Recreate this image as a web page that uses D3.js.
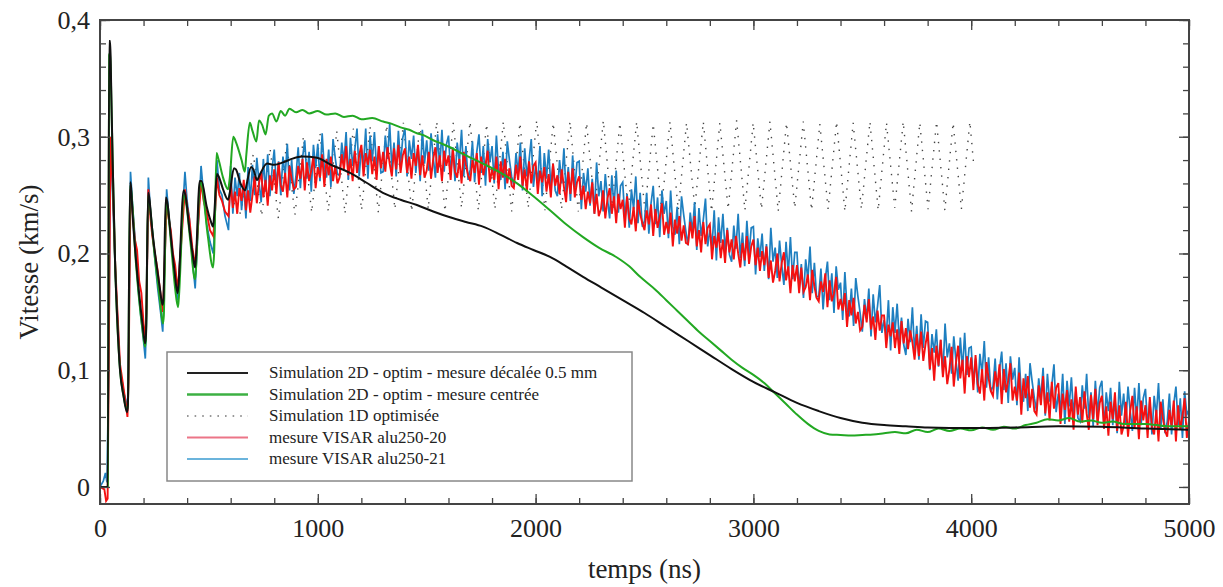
<!DOCTYPE html>
<html>
<head>
<meta charset="utf-8">
<script src="https://cdn.jsdelivr.net/npm/d3@7"></script>
<style>
body { margin: 0; background: #fff; }
text { font-family: "Liberation Serif", "Times New Roman", serif; fill: #222; }
</style>
</head>
<body>
<script>
// --- data (t in ns, v in km/s) ---
const legendLabels = [
  'Simulation 2D - optim - mesure décalée 0.5 mm',
  'Simulation 2D - optim - mesure centrée',
  'Simulation 1D optimisée',
  'mesure VISAR alu250-20',
  'mesure VISAR alu250-21'
];

const sim2dShifted = [[0,0],[36,0],[42,0.382],[47,0.382],[51,0.346],[58,0.28],[69,0.194],[80,0.14],[92,0.10],[108,0.078],[124,0.064],[128,0.07],[138,0.261],[142,0.258],[150,0.232],[165,0.195],[180,0.165],[195,0.14],[207,0.123],[211,0.13],[221,0.252],[226,0.248],[240,0.22],[260,0.19],[275,0.17],[287,0.156],[291,0.16],[302,0.248],[308,0.245],[325,0.215],[342,0.185],[356,0.166],[360,0.172],[384,0.254],[392,0.25],[410,0.222],[425,0.2],[436,0.188],[440,0.195],[458,0.262],[466,0.262],[490,0.24],[508,0.228],[519,0.223],[524,0.232],[537,0.268],[545,0.266],[565,0.255],[588,0.246],[596,0.252],[615,0.273],[624,0.272],[645,0.26],[666,0.254],[674,0.26],[694,0.274],[704,0.272],[721,0.263],[735,0.268],[767,0.277],[800,0.276],[840,0.278],[880,0.281],[930,0.283],[996,0.282],[1060,0.276],[1148,0.269],[1220,0.261],[1299,0.252],[1380,0.246],[1455,0.2415],[1530,0.236],[1607,0.231],[1680,0.227],[1758,0.223],[1840,0.216],[1915,0.209],[1990,0.203],[2066,0.197],[2140,0.189],[2218,0.18],[2300,0.171],[2400,0.16],[2500,0.149],[2600,0.137],[2700,0.125],[2800,0.113],[2900,0.101],[3000,0.09],[3100,0.081],[3200,0.072],[3300,0.065],[3400,0.059],[3500,0.055],[3600,0.053],[3700,0.052],[3800,0.051],[4000,0.0505],[4200,0.051],[4400,0.052],[4600,0.0515],[4800,0.05],[5000,0.049]];

const sim2dCentred = [[0,0],[36,0],[42,0.37],[47,0.372],[51,0.34],[58,0.28],[69,0.194],[92,0.10],[108,0.078],[124,0.066],[128,0.07],[138,0.258],[142,0.255],[165,0.192],[195,0.135],[207,0.12],[211,0.128],[221,0.25],[226,0.245],[250,0.2],[275,0.16],[289,0.14],[293,0.147],[304,0.245],[310,0.24],[330,0.2],[345,0.17],[358,0.154],[362,0.162],[386,0.25],[394,0.245],[415,0.21],[436,0.178],[440,0.185],[460,0.262],[468,0.258],[495,0.215],[519,0.188],[524,0.2],[535,0.286],[545,0.28],[565,0.265],[588,0.255],[596,0.265],[612,0.3],[625,0.295],[650,0.28],[665,0.27],[672,0.285],[688,0.312],[700,0.305],[718,0.296],[730,0.314],[745,0.31],[760,0.302],[775,0.318],[790,0.32],[810,0.313],[830,0.322],[850,0.318],[870,0.324],[900,0.321],[930,0.323],[960,0.32],[1000,0.322],[1040,0.319],[1080,0.32],[1120,0.317],[1160,0.318],[1200,0.315],[1250,0.316],[1300,0.313],[1340,0.311],[1380,0.308],[1420,0.306],[1455,0.303],[1490,0.301],[1530,0.297],[1570,0.294],[1607,0.291],[1680,0.284],[1758,0.277],[1840,0.269],[1915,0.26],[1990,0.249],[2066,0.237],[2140,0.225],[2218,0.214],[2290,0.205],[2370,0.197],[2430,0.189],[2480,0.18],[2550,0.169],[2600,0.16],[2650,0.151],[2700,0.142],[2750,0.133],[2800,0.125],[2850,0.117],[2900,0.109],[2950,0.102],[3000,0.096],[3050,0.089],[3100,0.08],[3150,0.071],[3200,0.062],[3250,0.054],[3300,0.048],[3350,0.045],[3400,0.0445],[3450,0.044],[3500,0.0445],[3550,0.045],[3600,0.046],[3650,0.047],[3700,0.046],[3750,0.049],[3800,0.047],[3850,0.05],[3900,0.048],[3950,0.05],[4000,0.0485],[4050,0.051],[4100,0.049],[4150,0.0515],[4200,0.05],[4250,0.053],[4300,0.055],[4350,0.058],[4400,0.057],[4450,0.059],[4500,0.056],[4550,0.057],[4600,0.055],[4650,0.056],[4700,0.054],[4800,0.054],[4900,0.052],[5000,0.052]];

const sim1d = [[600,0.25],[640,0.232],[704,0.285],[742,0.232],[781,0.29],[819,0.23],[857,0.295],[895,0.233],[934,0.3],[972,0.235],[1010,0.303],[1048,0.236],[1087,0.305],[1125,0.234],[1163,0.307],[1201,0.237],[1240,0.309],[1278,0.235],[1316,0.31],[1354,0.238],[1393,0.312],[1431,0.236],[1469,0.311],[1507,0.238],[1546,0.313],[1584,0.236],[1622,0.312],[1660,0.239],[1699,0.313],[1737,0.237],[1775,0.311],[1813,0.238],[1852,0.313],[1890,0.236],[1928,0.312],[1966,0.239],[2005,0.314],[2043,0.237],[2081,0.312],[2119,0.238],[2158,0.313],[2196,0.236],[2234,0.312],[2272,0.239],[2311,0.314],[2349,0.237],[2387,0.312],[2425,0.238],[2464,0.313],[2502,0.236],[2540,0.311],[2578,0.238],[2617,0.313],[2655,0.237],[2693,0.312],[2731,0.239],[2770,0.313],[2808,0.236],[2846,0.312],[2884,0.238],[2923,0.314],[2961,0.237],[2999,0.312],[3037,0.238],[3076,0.313],[3114,0.236],[3152,0.312],[3190,0.239],[3229,0.313],[3267,0.237],[3305,0.311],[3343,0.238],[3382,0.313],[3420,0.236],[3458,0.312],[3496,0.238],[3535,0.313],[3573,0.237],[3611,0.312],[3649,0.239],[3688,0.313],[3726,0.236],[3764,0.312],[3802,0.238],[3841,0.313],[3879,0.237],[3917,0.312],[3955,0.238],[3994,0.313],[4012,0.275]];

// VISAR, first ringing part (t, v)
const visar20Early = [[0,0],[20,-0.002],[28,-0.012],[35,-0.01],[40,0.1],[48,0.3],[60,0.25],[70,0.19],[80,0.15],[92,0.105],[100,0.095],[110,0.082],[118,0.072],[126,0.06],[131,0.09],[140,0.255],[148,0.24],[160,0.212],[170,0.203],[180,0.176],[190,0.166],[200,0.14],[208,0.125],[213,0.15],[222,0.255],[232,0.23],[240,0.215],[252,0.2],[265,0.185],[278,0.165],[288,0.15],[293,0.17],[306,0.245],[315,0.23],[325,0.22],[335,0.2],[345,0.19],[357,0.168],[362,0.18],[390,0.255],[400,0.24],[410,0.23],[424,0.205],[437,0.19],[442,0.2],[464,0.262],[476,0.245],[490,0.235],[505,0.22],[520,0.215],[526,0.228],[537,0.265],[548,0.25],[560,0.245],[574,0.236],[590,0.232]];
const visar21Early = [[0,0],[15,0.005],[25,0.012],[32,0.004],[40,0.1],[48,0.3],[60,0.24],[70,0.185],[82,0.14],[92,0.1],[102,0.09],[110,0.08],[118,0.075],[126,0.065],[131,0.1],[140,0.27],[150,0.24],[162,0.21],[175,0.17],[188,0.145],[200,0.125],[208,0.11],[213,0.14],[222,0.265],[232,0.235],[240,0.22],[252,0.195],[265,0.17],[278,0.15],[288,0.133],[293,0.16],[306,0.255],[315,0.235],[325,0.215],[335,0.195],[345,0.175],[357,0.16],[362,0.18],[390,0.27],[400,0.245],[410,0.23],[424,0.195],[437,0.17],[442,0.19],[464,0.275],[476,0.25],[490,0.225],[505,0.21],[520,0.2],[526,0.22],[537,0.28],[548,0.255],[560,0.25],[574,0.232],[590,0.22]];

// VISAR, sampled every 10 ns from 600 ns (values in 1e-3 km/s)
const visarStart = 600, visarStep = 10;
const visar20 = [
260,239,253,234,256,245,263,237,254,235, 250,266,243,260,270,248,263,241,267,254,
272,251,278,258,253,269,248,275,264,255, 257,275,264,281,254,278,262,271,283,256,
274,265,285,257,281,267,283,262,275,260, 265,285,272,292,267,281,262,288,269,284,
293,266,286,276,289,268,283,263,292,273, 287,270,291,277,266,290,272,293,269,284,
290,269,283,264,286,275,293,267,284,265, 271,287,264,281,291,269,284,262,288,275,
284,263,290,270,265,281,260,287,276,267, 262,280,269,286,259,283,267,276,288,261,
272,263,283,255,279,265,281,260,273,258, 256,276,263,283,258,272,253,279,260,275,
278,251,271,261,274,253,268,248,277,258, 267,251,272,257,244,270,251,273,248,261,
266,246,258,238,253,243,261,234,251,232, 238,254,230,247,256,234,249,226,251,238,
246,222,249,230,225,240,219,246,234,226, 220,237,225,242,215,238,222,231,243,216,
227,217,235,206,229,217,232,211,224,209, 208,227,213,232,206,220,201,227,208,222,
225,195,215,205,218,196,212,192,220,201, 212,195,215,200,188,209,194,215,191,206,
212,190,205,185,202,190,206,179,194,175, 185,200,176,192,201,177,189,166,190,176,
190,166,188,167,171,182,160,186,172,162, 159,176,167,183,154,177,159,166,180,152,
161,151,166,137,160,147,162,140,150,134, 137,156,141,161,135,146,126,151,134,147,
147,119,139,129,141,119,135,114,142,123, 136,118,134,124,109,131,112,133,108,122,
133,101,119,91,121,104,126,94,112,88, 101,120,86,106,121,93,109,80,112,94,
111,83,113,88,80,101,74,107,93,82, 78,99,86,105,71,101,81,91,106,74,
86,74,98,62,93,76,95,68,84,65, 62,87,70,95,63,81,57,90,67,85,
89,54,80,66,83,56,75,49,86,62, 77,55,82,63,49,79,58,84,53,72,
78,50,69,44,73,58,81,48,70,45, 52,73,43,65,78,50,69,41,74,57,
70,42,77,51,45,66,39,73,59,48, 43,66,52,74,39,70,49,61,76,42,
57];
const visar21 = [
275,234,265,249,269,237,260,230,274,245, 276,250,282,261,244,281,253,285,249,272,
289,257,279,250,283,266,294,254,280,251, 267,291,256,282,297,264,287,253,293,273,
294,262,303,272,265,289,257,298,282,268, 267,295,278,304,263,299,275,289,307,266,
290,276,307,264,301,279,304,272,292,269, 270,301,281,311,273,295,266,305,276,299,
307,266,297,281,301,269,292,262,306,277, 297,271,303,282,265,302,274,306,270,293,
301,269,291,262,295,278,306,266,292,263, 272,296,261,287,302,269,292,258,298,278,
292,260,301,270,263,287,255,296,280,266, 258,286,269,295,254,290,266,280,298,257,
275,261,292,249,286,264,289,257,277,254, 249,280,260,290,252,274,245,284,255,278,
279,238,269,253,273,241,264,234,278,249, 262,236,268,247,230,267,239,271,235,258,
261,229,251,222,255,238,266,226,252,223, 228,252,217,243,258,225,248,214,254,234,
245,213,254,223,216,240,208,249,233,219, 207,235,218,244,203,239,215,229,247,206,
220,206,237,194,231,209,234,202,222,199, 193,224,204,234,196,218,189,228,199,222,
223,182,213,197,217,185,208,178,222,193, 205,179,211,190,173,210,182,214,178,201,
201,169,191,162,195,178,206,166,192,163, 163,187,152,178,193,160,183,149,189,169,
175,143,184,153,146,170,138,179,163,149, 133,161,144,170,129,165,141,155,173,132,
143,129,160,117,154,132,157,125,145,122, 113,144,124,154,116,138,109,148,119,142,
141,100,131,115,135,103,126,96,140,111, 123,97,129,108,91,128,100,132,96,119,
120,88,110,81,114,97,125,85,111,82, 86,110,75,101,116,83,106,72,112,92,
102,70,111,80,73,97,65,106,90,76, 65,93,76,102,61,97,73,87,105,64,
80,66,97,54,91,69,94,62,82,59, 56,87,67,97,59,81,52,91,62,85,
91,50,81,65,85,53,76,46,90,61, 80,54,86,65,48,85,57,89,53,76,
84,52,74,45,78,61,89,49,75,46, 56,80,45,71,86,53,76,42,82,62,
66];

// --- layout ---
const W = 1223, H = 587;
const plot = { left: 100, right: 1189, top: 20, bottom: 504 };

const svg = d3.select('body').append('svg')
  .attr('width', W).attr('height', H);

const x = d3.scaleLinear().domain([0, 5000]).range([plot.left, plot.right]);
const y = d3.scaleLinear().domain([-0.0146, 0.4]).range([plot.bottom, plot.top]);

svg.append('clipPath').attr('id', 'clip')
  .append('rect')
  .attr('x', plot.left).attr('y', plot.top)
  .attr('width', plot.right - plot.left).attr('height', plot.bottom - plot.top);

const line = d3.line().x(d => x(d[0])).y(d => y(d[1]));
const smooth = d3.line().x(d => x(d[0])).y(d => y(d[1])).curve(d3.curveMonotoneX);

const toPts = (early, arr) => early.concat(arr.map((v, i) => [visarStart + i * visarStep, v / 1000]));

const g = svg.append('g').attr('clip-path', 'url(#clip)');

g.append('path').datum(sim1d)
  .attr('d', line)
  .attr('fill', 'none').attr('stroke', '#444').attr('stroke-width', 1.4)
  .attr('stroke-dasharray', '1.4,7');

g.append('path').datum(toPts(visar21Early, visar21))
  .attr('d', line)
  .attr('fill', 'none').attr('stroke', '#1e7fc0').attr('stroke-width', 1.7);

g.append('path').datum(toPts(visar20Early, visar20))
  .attr('d', line)
  .attr('fill', 'none').attr('stroke', '#f41010').attr('stroke-width', 1.9);

g.append('path').datum(sim2dCentred)
  .attr('d', smooth)
  .attr('fill', 'none').attr('stroke', '#22a822').attr('stroke-width', 2);

g.append('path').datum(sim2dShifted)
  .attr('d', smooth)
  .attr('fill', 'none').attr('stroke', '#111').attr('stroke-width', 2);

// --- frame and axes ---
const fmtY = d => d === 0 ? '0' : d3.format('.1f')(d).replace('.', ',');

function styleAxis(sel) {
  sel.select('.domain').remove();
  sel.selectAll('line').attr('stroke', '#444').attr('stroke-width', 1.3);
  sel.selectAll('text').attr('font-size', 26).attr('fill', '#222')
    .attr('font-family', '"Liberation Serif", "Times New Roman", serif');
}

// minor ticks
svg.append('g').attr('transform', `translate(0,${plot.bottom})`)
  .call(d3.axisBottom(x).ticks(25).tickSize(-6).tickFormat('')).call(styleAxis);
svg.append('g').attr('transform', `translate(0,${plot.top})`)
  .call(d3.axisTop(x).ticks(25).tickSize(-6).tickFormat('')).call(styleAxis);
svg.append('g').attr('transform', `translate(${plot.left},0)`)
  .call(d3.axisLeft(y).ticks(20).tickSize(-6).tickFormat('')).call(styleAxis);
svg.append('g').attr('transform', `translate(${plot.right},0)`)
  .call(d3.axisRight(y).ticks(20).tickSize(-6).tickFormat('')).call(styleAxis);

// major ticks
svg.append('g').attr('transform', `translate(0,${plot.bottom})`)
  .call(d3.axisBottom(x).ticks(5).tickSize(-10).tickPadding(15).tickFormat(d3.format('d'))).call(styleAxis);
svg.append('g').attr('transform', `translate(0,${plot.top})`)
  .call(d3.axisTop(x).ticks(5).tickSize(-10).tickFormat('')).call(styleAxis);
svg.append('g').attr('transform', `translate(${plot.left},0)`)
  .call(d3.axisLeft(y).ticks(5).tickSize(-10).tickPadding(10).tickFormat(fmtY)).call(styleAxis);
svg.append('g').attr('transform', `translate(${plot.right},0)`)
  .call(d3.axisRight(y).ticks(5).tickSize(-10).tickFormat('')).call(styleAxis);

svg.append('rect')
  .attr('x', plot.left).attr('y', plot.top)
  .attr('width', plot.right - plot.left).attr('height', plot.bottom - plot.top)
  .attr('fill', 'none').attr('stroke', '#444').attr('stroke-width', 2);

svg.append('text')
  .attr('x', (plot.left + plot.right) / 2).attr('y', 578)
  .attr('text-anchor', 'middle').attr('font-size', 27)
  .text('temps (ns)');

svg.append('text')
  .attr('transform', `translate(38,${(plot.top + plot.bottom) / 2}) rotate(-90)`)
  .attr('text-anchor', 'middle').attr('font-size', 27)
  .text('Vitesse (km/s)');

// --- legend ---
const legendStyles = [
  { stroke: '#222', width: 2.2, dash: null },
  { stroke: '#3cb043', width: 2.6, dash: null },
  { stroke: '#777', width: 1.6, dash: '1.6,6' },
  { stroke: '#ec7587', width: 2, dash: null },
  { stroke: '#6bb4dc', width: 2, dash: null }
];

const legend = svg.append('g');
legend.append('rect')
  .attr('x', 167).attr('y', 352).attr('width', 465).attr('height', 129)
  .attr('fill', '#fff').attr('stroke', '#888').attr('stroke-width', 1.5);

const rows = legend.selectAll('g.row')
  .data(legendLabels)
  .enter().append('g')
  .attr('class', 'row')
  .attr('transform', (d, i) => `translate(0,${373 + i * 21.5})`);

rows.append('line')
  .attr('x1', 187).attr('x2', 248)
  .attr('stroke', (d, i) => legendStyles[i].stroke)
  .attr('stroke-width', (d, i) => legendStyles[i].width)
  .attr('stroke-dasharray', (d, i) => legendStyles[i].dash);

rows.append('text')
  .attr('x', 269).attr('y', 5)
  .attr('font-size', 17)
  .text(d => d);
</script>
</body>
</html>
